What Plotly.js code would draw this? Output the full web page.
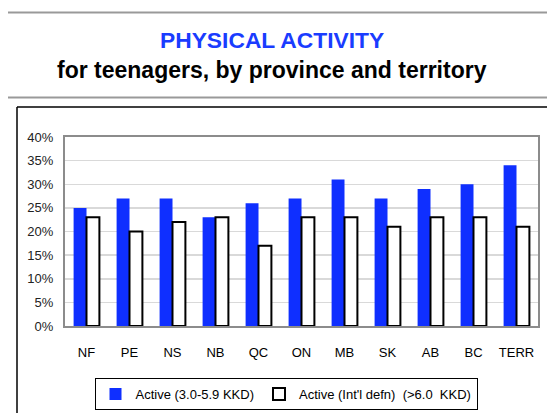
<!DOCTYPE html>
<html>
<head>
<meta charset="utf-8">
<script src="https://cdn.plot.ly/plotly-3.0.1.min.js"></script>
<style>html,body{margin:0;padding:0;background:#fff;}#chart{width:547px;height:413px;}</style>
</head>
<body>
<div id="chart"></div>
<script>
const categories = ["NF","PE","NS","NB","QC","ON","MB","SK","AB","BC","TERR"];
const activeModerate = [0.25,0.27,0.27,0.23,0.26,0.27,0.31,0.27,0.29,0.30,0.34];
const activeIntl = [0.23,0.20,0.22,0.23,0.17,0.23,0.23,0.21,0.23,0.23,0.21];
const seriesNames = ["Active (3.0-5.9 KKD)", "Active (Int'l defn)\u00a0 (>6.0\u00a0 KKD)"];
const yTicks = [0,0.05,0.10,0.15,0.20,0.25,0.30,0.35,0.40];

const W = 547, H = 413;
const L = 65, R = 9, T = 137, B = 87;
const pw = W - L - R, ph = H - T - B;
const px = x => (x - L) / pw;
const py = y => (H - B - y) / ph;

const traces = [
  {type:'bar', x:categories, y:activeModerate, name:seriesNames[0],
   marker:{color:'#0f2fff', line:{width:0}}},
  {type:'bar', x:categories, y:activeIntl, name:seriesNames[1],
   marker:{color:'#ffffff', line:{color:'#000000', width:2}}}
];

const layout = {
  width:W, height:H,
  margin:{l:L, r:R, t:T, b:B, pad:0},
  paper_bgcolor:'#ffffff', plot_bgcolor:'#ffffff',
  font:{family:'"Liberation Sans", Arial, sans-serif', color:'#222', size:13},
  barmode:'group', bargap:0.4, bargroupgap:0,
  showlegend:true,
  legend:{orientation:'h', xref:'container', yref:'container', x:286/W, xanchor:'center', y:1-378/H, yanchor:'top',
    bordercolor:'#000', borderwidth:1, bgcolor:'#fff',
    font:{size:13, color:'#000'}, itemwidth:30, tracegroupgap:0},
  xaxis:{type:'category', showgrid:false, showline:true, linecolor:'#8c8c8c', linewidth:2, mirror:true,
    ticks:'outside', ticklen:13, tickcolor:'rgba(0,0,0,0)', tickfont:{size:13, color:'#000'}, fixedrange:true, automargin:false},
  yaxis:{range:[0,0.40], tickvals:yTicks, tickformat:'.0%', showgrid:true, gridcolor:'#d9d9d9', gridwidth:1.5,
    showline:true, linecolor:'#8c8c8c', linewidth:2, mirror:true, zeroline:false, automargin:false,
    ticks:'outside', ticklen:7, tickcolor:'rgba(0,0,0,0)', tickfont:{size:13, color:'#222'}},
  annotations:[
    {text:'<b>PHYSICAL ACTIVITY</b>', xref:'paper', yref:'paper', x:px(272), y:py(40), xanchor:'center', yanchor:'middle',
     showarrow:false, font:{size:22.8, color:'#1a3cff'}},
    {text:'<b>for teenagers, by province and territory</b>', xref:'paper', yref:'paper', x:px(272), y:py(70), xanchor:'center', yanchor:'middle',
     showarrow:false, font:{size:23, color:'#000'}}
  ],
  shapes:[
    {type:'line', xref:'paper', yref:'paper', x0:px(8), x1:px(547), y0:py(12.5), y1:py(12.5), line:{color:'#999', width:2}},
    {type:'line', xref:'paper', yref:'paper', x0:px(8), x1:px(547), y0:py(97.5), y1:py(97.5), line:{color:'#999', width:2}},
    {type:'line', xref:'paper', yref:'paper', x0:px(17), x1:px(547), y0:py(107), y1:py(107), line:{color:'#000', width:1.5}},
    {type:'line', xref:'paper', yref:'paper', x0:px(17), x1:px(17), y0:py(107), y1:py(413), line:{color:'#000', width:1.5}}
  ]
};

Plotly.newPlot('chart', traces, layout, {displayModeBar:false, staticPlot:true});
</script>
</body>
</html>
